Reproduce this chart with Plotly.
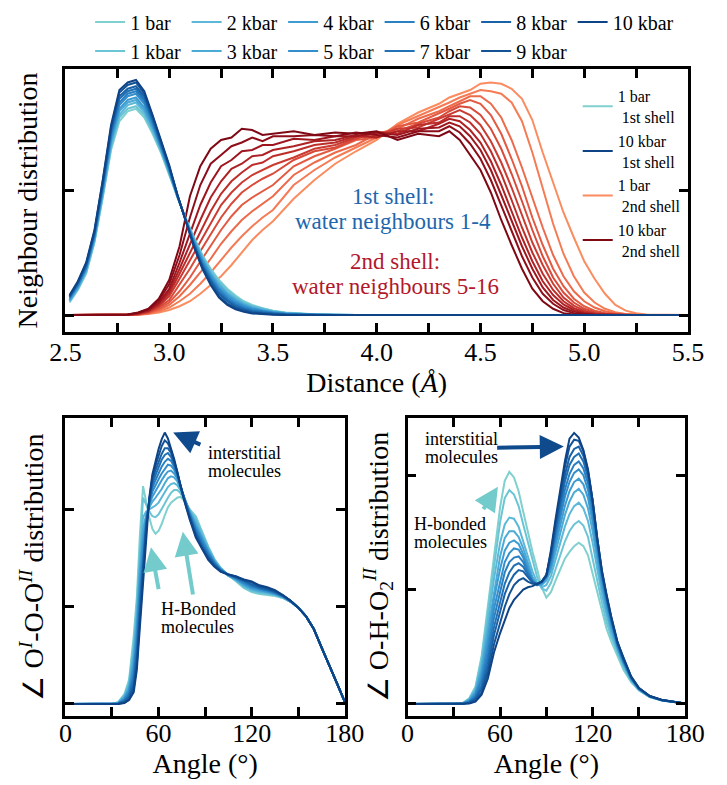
import plotly.graph_objects as go

PRESSURES = ["1 bar", "1 kbar", "2 kbar", "3 kbar", "4 kbar", "5 kbar",
             "6 kbar", "7 kbar", "8 kbar", "9 kbar", "10 kbar"]

# ---- top panel: 1st shell (neighbours 1-4) ----
SHELL1_X = [2.52, 2.56, 2.60, 2.64, 2.68, 2.72, 2.76, 2.80, 2.84, 2.88, 2.92, 2.96, 3.00, 3.04,
            3.08, 3.12, 3.16, 3.20, 3.24, 3.28, 3.32, 3.36, 3.40, 3.45, 3.50, 3.56, 3.62, 3.70,
            3.80, 3.90, 5.50]
SHELL1_Y = [
    [0.10, 0.20, 0.33, 0.58, 0.94, 1.32, 1.55, 1.63, 1.65, 1.58, 1.45, 1.30, 1.12, 0.94, 0.77, 0.62, 0.48, 0.37, 0.28, 0.21, 0.155, 0.11, 0.08, 0.055, 0.035, 0.02, 0.012, 0.006, 0.002, 0, 0],
    [0.11, 0.21, 0.34, 0.59, 0.95, 1.34, 1.58, 1.65, 1.67, 1.60, 1.47, 1.31, 1.13, 0.94, 0.77, 0.61, 0.47, 0.36, 0.27, 0.20, 0.144, 0.10, 0.073, 0.05, 0.032, 0.018, 0.011, 0.005, 0.002, 0, 0],
    [0.11, 0.21, 0.35, 0.60, 0.97, 1.36, 1.60, 1.68, 1.70, 1.62, 1.48, 1.32, 1.14, 0.94, 0.77, 0.60, 0.46, 0.34, 0.25, 0.18, 0.133, 0.093, 0.066, 0.045, 0.029, 0.016, 0.01, 0.005, 0.002, 0, 0],
    [0.12, 0.22, 0.36, 0.61, 0.98, 1.38, 1.63, 1.70, 1.72, 1.64, 1.50, 1.33, 1.14, 0.95, 0.76, 0.60, 0.45, 0.33, 0.24, 0.17, 0.122, 0.085, 0.06, 0.04, 0.025, 0.014, 0.008, 0.004, 0.001, 0, 0],
    [0.12, 0.23, 0.37, 0.62, 1.00, 1.40, 1.65, 1.72, 1.74, 1.66, 1.51, 1.34, 1.15, 0.95, 0.76, 0.59, 0.44, 0.32, 0.22, 0.16, 0.111, 0.076, 0.053, 0.035, 0.022, 0.012, 0.007, 0.004, 0.001, 0, 0],
    [0.13, 0.235, 0.375, 0.63, 1.01, 1.42, 1.68, 1.75, 1.77, 1.69, 1.53, 1.35, 1.16, 0.95, 0.76, 0.58, 0.425, 0.305, 0.21, 0.145, 0.10, 0.068, 0.046, 0.03, 0.019, 0.01, 0.006, 0.003, 0.001, 0, 0],
    [0.14, 0.24, 0.38, 0.64, 1.02, 1.44, 1.70, 1.77, 1.79, 1.71, 1.54, 1.36, 1.17, 0.95, 0.76, 0.57, 0.41, 0.29, 0.20, 0.13, 0.089, 0.059, 0.039, 0.026, 0.016, 0.009, 0.005, 0.002, 0.001, 0, 0],
    [0.14, 0.25, 0.39, 0.65, 1.04, 1.46, 1.73, 1.79, 1.81, 1.73, 1.56, 1.37, 1.18, 0.95, 0.76, 0.56, 0.40, 0.28, 0.18, 0.12, 0.078, 0.05, 0.032, 0.021, 0.013, 0.007, 0.004, 0.002, 0, 0, 0],
    [0.15, 0.26, 0.40, 0.66, 1.05, 1.48, 1.75, 1.81, 1.83, 1.75, 1.57, 1.38, 1.18, 0.96, 0.75, 0.56, 0.39, 0.27, 0.17, 0.11, 0.067, 0.042, 0.026, 0.016, 0.009, 0.005, 0.002, 0.001, 0, 0, 0],
    [0.15, 0.26, 0.41, 0.67, 1.07, 1.50, 1.78, 1.84, 1.86, 1.77, 1.59, 1.39, 1.19, 0.96, 0.75, 0.55, 0.38, 0.25, 0.15, 0.09, 0.056, 0.034, 0.019, 0.011, 0.006, 0.003, 0.001, 0.001, 0, 0, 0],
    [0.16, 0.27, 0.42, 0.68, 1.08, 1.52, 1.80, 1.86, 1.88, 1.79, 1.60, 1.40, 1.20, 0.96, 0.75, 0.54, 0.37, 0.24, 0.14, 0.08, 0.045, 0.025, 0.012, 0.006, 0.003, 0.001, 0, 0, 0, 0, 0],
]

# ---- top panel: 2nd shell (neighbours 5-16) ----
SHELL2_X = [2.52, 2.80, 2.85, 2.90, 2.95, 3.00, 3.05, 3.10, 3.15, 3.20, 3.25, 3.30, 3.35, 3.40,
            3.45, 3.50, 3.60, 3.70, 3.80, 3.90, 4.00, 4.10, 4.20, 4.30, 4.35, 4.40, 4.45, 4.50,
            4.55, 4.60, 4.65, 4.70, 4.75, 4.80, 4.85, 4.90, 4.95, 5.00, 5.05, 5.10, 5.15, 5.20,
            5.25, 5.30, 5.50]
SHELL2_Y = [
    [0, 0, 0.002, 0.008, 0.02, 0.04, 0.07, 0.11, 0.17, 0.24, 0.31, 0.40, 0.50, 0.60, 0.68, 0.75, 0.93, 1.08, 1.21, 1.31, 1.40, 1.53, 1.62, 1.69, 1.74, 1.77, 1.80, 1.85, 1.86, 1.85, 1.81, 1.73, 1.56, 1.30, 1.06, 0.82, 0.62, 0.43, 0.29, 0.17, 0.08, 0.035, 0.014, 0.004, 0],
    [0, 0, 0.003, 0.011, 0.03, 0.06, 0.11, 0.17, 0.25, 0.34, 0.44, 0.54, 0.63, 0.71, 0.78, 0.84, 1.04, 1.16, 1.26, 1.34, 1.42, 1.52, 1.59, 1.66, 1.70, 1.74, 1.77, 1.80, 1.79, 1.77, 1.70, 1.55, 1.30, 1.02, 0.73, 0.49, 0.31, 0.18, 0.10, 0.05, 0.022, 0.009, 0.003, 0, 0],
    [0, 0.001, 0.004, 0.014, 0.04, 0.08, 0.15, 0.24, 0.34, 0.45, 0.57, 0.67, 0.76, 0.83, 0.89, 0.95, 1.12, 1.22, 1.30, 1.36, 1.45, 1.49, 1.57, 1.63, 1.67, 1.71, 1.75, 1.75, 1.69, 1.58, 1.40, 1.18, 0.94, 0.70, 0.48, 0.31, 0.19, 0.11, 0.06, 0.03, 0.012, 0.005, 0.002, 0, 0],
    [0, 0.001, 0.005, 0.018, 0.05, 0.10, 0.19, 0.30, 0.43, 0.55, 0.68, 0.79, 0.88, 0.94, 0.99, 1.04, 1.19, 1.27, 1.33, 1.40, 1.42, 1.51, 1.54, 1.61, 1.65, 1.69, 1.72, 1.69, 1.60, 1.45, 1.25, 1.03, 0.78, 0.56, 0.37, 0.23, 0.13, 0.07, 0.035, 0.016, 0.006, 0.002, 0, 0, 0],
    [0, 0.001, 0.007, 0.022, 0.06, 0.12, 0.24, 0.37, 0.51, 0.65, 0.78, 0.89, 0.98, 1.04, 1.09, 1.13, 1.24, 1.31, 1.34, 1.41, 1.46, 1.47, 1.53, 1.58, 1.63, 1.67, 1.66, 1.60, 1.49, 1.33, 1.13, 0.91, 0.68, 0.47, 0.30, 0.18, 0.10, 0.05, 0.024, 0.01, 0.004, 0.001, 0, 0, 0],
    [0, 0.001, 0.008, 0.026, 0.07, 0.15, 0.29, 0.44, 0.58, 0.74, 0.88, 0.98, 1.06, 1.12, 1.16, 1.20, 1.26, 1.33, 1.36, 1.42, 1.43, 1.49, 1.50, 1.57, 1.61, 1.64, 1.60, 1.52, 1.39, 1.22, 1.02, 0.80, 0.58, 0.40, 0.25, 0.14, 0.075, 0.035, 0.015, 0.006, 0.002, 0, 0, 0, 0],
    [0, 0.001, 0.01, 0.03, 0.08, 0.17, 0.33, 0.50, 0.66, 0.83, 0.97, 1.07, 1.14, 1.20, 1.22, 1.27, 1.31, 1.36, 1.38, 1.43, 1.46, 1.45, 1.52, 1.54, 1.59, 1.59, 1.54, 1.45, 1.31, 1.13, 0.92, 0.70, 0.50, 0.33, 0.20, 0.11, 0.055, 0.025, 0.01, 0.004, 0.001, 0, 0, 0, 0],
    [0, 0.002, 0.012, 0.035, 0.09, 0.19, 0.37, 0.57, 0.76, 0.94, 1.07, 1.17, 1.21, 1.27, 1.28, 1.32, 1.35, 1.39, 1.40, 1.44, 1.42, 1.47, 1.47, 1.53, 1.57, 1.55, 1.48, 1.38, 1.23, 1.04, 0.83, 0.62, 0.43, 0.27, 0.16, 0.085, 0.04, 0.017, 0.007, 0.002, 0, 0, 0, 0, 0],
    [0, 0.003, 0.014, 0.04, 0.10, 0.21, 0.42, 0.65, 0.88, 1.06, 1.19, 1.24, 1.31, 1.32, 1.36, 1.36, 1.41, 1.40, 1.43, 1.43, 1.46, 1.44, 1.49, 1.50, 1.54, 1.51, 1.43, 1.32, 1.16, 0.96, 0.75, 0.55, 0.37, 0.22, 0.12, 0.06, 0.027, 0.011, 0.004, 0.001, 0, 0, 0, 0, 0],
    [0, 0.004, 0.017, 0.045, 0.115, 0.245, 0.48, 0.78, 1.04, 1.21, 1.28, 1.35, 1.38, 1.42, 1.39, 1.43, 1.43, 1.44, 1.43, 1.46, 1.44, 1.42, 1.47, 1.47, 1.51, 1.46, 1.37, 1.25, 1.08, 0.88, 0.67, 0.47, 0.30, 0.17, 0.09, 0.04, 0.015, 0.005, 0.001, 0, 0, 0, 0, 0, 0],
    [0, 0.005, 0.02, 0.05, 0.13, 0.28, 0.55, 0.95, 1.19, 1.33, 1.40, 1.42, 1.49, 1.48, 1.44, 1.45, 1.47, 1.44, 1.46, 1.45, 1.47, 1.40, 1.45, 1.43, 1.47, 1.40, 1.28, 1.16, 0.98, 0.76, 0.56, 0.37, 0.21, 0.11, 0.05, 0.015, 0.004, 0, 0, 0, 0, 0, 0, 0, 0],
]

# ---- bottom left: O^I-O-O^II angle ----
OOO_X = [0, 30, 34, 38, 41, 44, 46, 48, 50, 52, 54, 56, 58, 60, 62, 64, 66, 68, 70, 72, 74, 76,
         78, 80, 84, 88, 92, 96, 100, 105, 110, 115, 120, 125, 130, 135, 140, 145, 150, 155,
         160, 165, 170, 175, 180]
OOO_Y = [
    [0, 0, 0.02, 0.10, 0.25, 0.70, 1.10, 1.75, 2.24, 2.08, 1.92, 1.80, 1.75, 1.78, 1.85, 1.94, 2.02, 2.07, 2.10, 2.12, 2.13, 2.10, 2.05, 2.00, 1.93, 1.78, 1.62, 1.49, 1.40, 1.32, 1.26, 1.19, 1.15, 1.13, 1.12, 1.11, 1.09, 1.05, 0.99, 0.90, 0.77, 0.58, 0.40, 0.21, 0.02],
    [0, 0, 0.015, 0.09, 0.22, 0.62, 1.02, 1.62, 2.12, 2.05, 1.98, 1.93, 1.92, 1.95, 2.00, 2.06, 2.12, 2.17, 2.20, 2.20, 2.17, 2.12, 2.06, 2.00, 1.91, 1.76, 1.61, 1.48, 1.40, 1.32, 1.27, 1.20, 1.16, 1.14, 1.13, 1.12, 1.09, 1.05, 0.99, 0.90, 0.77, 0.58, 0.40, 0.21, 0.02],
    [0, 0, 0.01, 0.08, 0.20, 0.55, 0.94, 1.50, 1.92, 1.98, 2.00, 2.02, 2.04, 2.07, 2.12, 2.18, 2.23, 2.26, 2.27, 2.25, 2.20, 2.13, 2.06, 1.99, 1.88, 1.74, 1.60, 1.48, 1.39, 1.32, 1.27, 1.21, 1.17, 1.15, 1.14, 1.12, 1.10, 1.05, 0.99, 0.90, 0.77, 0.58, 0.40, 0.21, 0.02],
    [0, 0, 0.008, 0.07, 0.17, 0.48, 0.86, 1.40, 1.80, 1.95, 2.02, 2.08, 2.12, 2.16, 2.21, 2.27, 2.32, 2.34, 2.33, 2.29, 2.22, 2.14, 2.06, 1.98, 1.85, 1.72, 1.58, 1.47, 1.39, 1.32, 1.28, 1.22, 1.18, 1.16, 1.15, 1.13, 1.10, 1.05, 0.99, 0.90, 0.77, 0.58, 0.40, 0.21, 0.02],
    [0, 0, 0.006, 0.06, 0.15, 0.42, 0.78, 1.30, 1.70, 1.92, 2.04, 2.13, 2.19, 2.24, 2.30, 2.35, 2.39, 2.40, 2.37, 2.32, 2.23, 2.14, 2.05, 1.97, 1.83, 1.70, 1.57, 1.46, 1.38, 1.32, 1.28, 1.23, 1.19, 1.17, 1.15, 1.13, 1.10, 1.05, 0.99, 0.90, 0.77, 0.58, 0.40, 0.21, 0.02],
    [0, 0, 0.005, 0.05, 0.13, 0.36, 0.70, 1.20, 1.61, 1.89, 2.06, 2.18, 2.25, 2.31, 2.37, 2.42, 2.46, 2.45, 2.41, 2.34, 2.24, 2.14, 2.05, 1.96, 1.81, 1.68, 1.56, 1.45, 1.38, 1.32, 1.29, 1.24, 1.20, 1.18, 1.16, 1.14, 1.11, 1.06, 0.99, 0.90, 0.77, 0.58, 0.40, 0.21, 0.02],
    [0, 0, 0.004, 0.04, 0.11, 0.30, 0.62, 1.12, 1.53, 1.86, 2.07, 2.22, 2.30, 2.37, 2.44, 2.49, 2.52, 2.50, 2.44, 2.36, 2.24, 2.13, 2.04, 1.95, 1.79, 1.66, 1.54, 1.45, 1.38, 1.33, 1.29, 1.25, 1.21, 1.19, 1.17, 1.14, 1.11, 1.06, 0.99, 0.90, 0.77, 0.58, 0.40, 0.21, 0.02],
    [0, 0, 0.003, 0.03, 0.09, 0.25, 0.55, 1.04, 1.45, 1.84, 2.08, 2.26, 2.35, 2.43, 2.51, 2.56, 2.58, 2.54, 2.47, 2.37, 2.25, 2.13, 2.03, 1.94, 1.77, 1.64, 1.53, 1.44, 1.37, 1.33, 1.30, 1.26, 1.22, 1.19, 1.17, 1.15, 1.11, 1.06, 0.99, 0.90, 0.77, 0.58, 0.40, 0.21, 0.02],
    [0, 0, 0.002, 0.02, 0.07, 0.20, 0.48, 0.96, 1.38, 1.82, 2.09, 2.30, 2.40, 2.49, 2.57, 2.63, 2.63, 2.58, 2.49, 2.38, 2.25, 2.13, 2.03, 1.93, 1.75, 1.62, 1.51, 1.43, 1.37, 1.33, 1.30, 1.27, 1.23, 1.20, 1.18, 1.15, 1.11, 1.06, 0.99, 0.90, 0.77, 0.58, 0.40, 0.21, 0.02],
    [0, 0, 0.001, 0.015, 0.05, 0.16, 0.41, 0.88, 1.31, 1.79, 2.10, 2.33, 2.45, 2.56, 2.65, 2.71, 2.68, 2.61, 2.51, 2.39, 2.25, 2.12, 2.02, 1.92, 1.73, 1.60, 1.50, 1.42, 1.36, 1.33, 1.31, 1.27, 1.25, 1.21, 1.19, 1.16, 1.12, 1.06, 0.99, 0.90, 0.77, 0.58, 0.40, 0.21, 0.02],
    [0, 0, 0, 0.01, 0.04, 0.12, 0.35, 0.80, 1.25, 1.75, 2.12, 2.36, 2.50, 2.62, 2.72, 2.79, 2.73, 2.63, 2.52, 2.39, 2.25, 2.12, 2.01, 1.90, 1.71, 1.59, 1.48, 1.41, 1.36, 1.33, 1.31, 1.28, 1.26, 1.22, 1.20, 1.17, 1.12, 1.06, 0.99, 0.90, 0.77, 0.58, 0.40, 0.21, 0.02],
]

# ---- bottom right: O-H-O2^II angle ----
OHO_X = [0, 30, 36, 40, 44, 48, 52, 56, 60, 63, 66, 69, 72, 75, 78, 81, 84, 87, 90, 93, 96, 99,
         102, 105, 108, 111, 114, 117, 120, 123, 126, 129, 132, 136, 140, 145, 150, 157, 165, 180]
OHO_Y = [
    [0, 0, 0.01, 0.05, 0.15, 0.42, 0.85, 1.30, 1.72, 1.95, 2.03, 1.98, 1.86, 1.68, 1.50, 1.33, 1.18, 1.02, 0.93, 0.98, 1.08, 1.17, 1.27, 1.33, 1.38, 1.41, 1.38, 1.30, 1.14, 0.96, 0.80, 0.66, 0.55, 0.42, 0.30, 0.19, 0.12, 0.06, 0.03, 0.005],
    [0, 0, 0.008, 0.045, 0.14, 0.39, 0.79, 1.21, 1.59, 1.80, 1.87, 1.83, 1.73, 1.57, 1.41, 1.25, 1.11, 1.01, 0.99, 1.06, 1.18, 1.30, 1.42, 1.51, 1.57, 1.60, 1.56, 1.46, 1.28, 1.08, 0.89, 0.72, 0.59, 0.45, 0.32, 0.20, 0.12, 0.06, 0.03, 0.005],
    [0, 0, 0.007, 0.04, 0.12, 0.35, 0.71, 1.09, 1.41, 1.57, 1.63, 1.62, 1.55, 1.43, 1.29, 1.16, 1.06, 1.02, 1.04, 1.12, 1.26, 1.41, 1.55, 1.66, 1.73, 1.76, 1.71, 1.60, 1.41, 1.18, 0.96, 0.78, 0.63, 0.47, 0.34, 0.21, 0.125, 0.062, 0.031, 0.005],
    [0, 0, 0.006, 0.035, 0.11, 0.31, 0.64, 1.00, 1.29, 1.45, 1.51, 1.51, 1.46, 1.36, 1.23, 1.11, 1.04, 1.04, 1.08, 1.17, 1.33, 1.50, 1.65, 1.77, 1.85, 1.88, 1.83, 1.71, 1.51, 1.26, 1.02, 0.82, 0.66, 0.49, 0.35, 0.21, 0.13, 0.064, 0.032, 0.005],
    [0, 0, 0.005, 0.03, 0.10, 0.27, 0.57, 0.91, 1.18, 1.34, 1.41, 1.43, 1.40, 1.31, 1.19, 1.09, 1.04, 1.05, 1.10, 1.20, 1.39, 1.57, 1.73, 1.86, 1.94, 1.97, 1.92, 1.80, 1.59, 1.32, 1.06, 0.86, 0.69, 0.50, 0.36, 0.22, 0.13, 0.065, 0.032, 0.005],
    [0, 0, 0.004, 0.025, 0.08, 0.23, 0.50, 0.83, 1.08, 1.24, 1.32, 1.36, 1.35, 1.28, 1.17, 1.08, 1.04, 1.06, 1.11, 1.23, 1.44, 1.63, 1.81, 1.94, 2.02, 2.05, 2.00, 1.87, 1.65, 1.37, 1.10, 0.89, 0.71, 0.51, 0.37, 0.22, 0.13, 0.066, 0.033, 0.005],
    [0, 0, 0.003, 0.02, 0.07, 0.20, 0.44, 0.75, 0.99, 1.15, 1.24, 1.28, 1.29, 1.24, 1.15, 1.07, 1.04, 1.06, 1.12, 1.26, 1.48, 1.69, 1.87, 2.01, 2.09, 2.12, 2.06, 1.93, 1.70, 1.40, 1.12, 0.91, 0.73, 0.52, 0.38, 0.23, 0.135, 0.067, 0.033, 0.005],
    [0, 0, 0.002, 0.016, 0.055, 0.16, 0.38, 0.67, 0.90, 1.05, 1.15, 1.21, 1.23, 1.20, 1.13, 1.07, 1.04, 1.07, 1.12, 1.28, 1.52, 1.74, 1.94, 2.09, 2.16, 2.19, 2.12, 1.98, 1.74, 1.42, 1.14, 0.93, 0.74, 0.53, 0.38, 0.23, 0.135, 0.068, 0.034, 0.005],
    [0, 0, 0.001, 0.012, 0.045, 0.13, 0.32, 0.60, 0.81, 0.96, 1.06, 1.13, 1.17, 1.16, 1.11, 1.06, 1.05, 1.07, 1.13, 1.30, 1.55, 1.79, 2.00, 2.16, 2.23, 2.25, 2.17, 2.02, 1.77, 1.44, 1.15, 0.94, 0.75, 0.54, 0.39, 0.23, 0.14, 0.069, 0.034, 0.005],
    [0, 0, 0.001, 0.008, 0.03, 0.10, 0.27, 0.52, 0.71, 0.85, 0.96, 1.04, 1.08, 1.10, 1.07, 1.05, 1.05, 1.07, 1.13, 1.33, 1.59, 1.84, 2.07, 2.25, 2.31, 2.30, 2.21, 2.04, 1.78, 1.45, 1.16, 0.95, 0.76, 0.54, 0.40, 0.24, 0.14, 0.07, 0.035, 0.005],
    [0, 0, 0, 0.005, 0.02, 0.08, 0.22, 0.45, 0.62, 0.74, 0.84, 0.91, 0.96, 1.00, 1.02, 1.03, 1.05, 1.07, 1.12, 1.35, 1.62, 1.88, 2.12, 2.32, 2.37, 2.33, 2.22, 2.05, 1.78, 1.45, 1.17, 0.96, 0.77, 0.55, 0.40, 0.24, 0.14, 0.07, 0.035, 0.005],
]

# ---- styles ----
BLUES = ["#7fd0cf", "#6cc5d5", "#5cb8d9", "#4caad7", "#3f9cd2", "#338ecb",
         "#2980c2", "#2071b6", "#1962a7", "#145296", "#0e4385"]
REDS = ["#fb8c5f", "#f57b55", "#ed6a4b", "#e35a42", "#d84a39", "#cb3b32",
        "#bd2e2b", "#ae2225", "#9e171f", "#8e0e1a", "#7f0815"]
FONT = "Liberation Serif"
W, H = 727, 785


def px_x(p):
    return p / W


def px_y(p):
    return 1 - p / H


fig = go.Figure()

# top panel: second shell first, then first shell on top
for i in range(11):
    fig.add_trace(go.Scatter(
        x=SHELL2_X, y=SHELL2_Y[i], mode="lines", xaxis="x", yaxis="y",
        line=dict(color=REDS[i], width=2),
        name=PRESSURES[i] + "<br>\u00a02nd shell", legend="legend3",
        showlegend=i in (0, 10), legendrank=3 if i == 0 else 4, hoverinfo="skip"))
for i in range(11):
    fig.add_trace(go.Scatter(
        x=SHELL1_X, y=SHELL1_Y[i], mode="lines", xaxis="x", yaxis="y",
        line=dict(color=BLUES[i], width=2),
        name=PRESSURES[i] + "<br>\u00a01st shell", legend="legend3",
        showlegend=i in (0, 10), legendrank=1 if i == 0 else 2, hoverinfo="skip"))

# bottom left (carries the pressure legend)
for i in range(11):
    fig.add_trace(go.Scatter(
        x=OOO_X, y=OOO_Y[i], mode="lines", xaxis="x2", yaxis="y2",
        line=dict(color=BLUES[i], width=2), name=PRESSURES[i],
        legend="legend" if i % 2 == 0 else "legend2", showlegend=True,
        legendwidth=70 if i == 10 else None, hoverinfo="skip"))
# bottom right
for i in range(11):
    fig.add_trace(go.Scatter(
        x=OHO_X, y=OHO_Y[i], mode="lines", xaxis="x3", yaxis="y3",
        line=dict(color=BLUES[i], width=2), name=PRESSURES[i],
        showlegend=False, hoverinfo="skip"))

axis_common = dict(showline=True, linewidth=2.5, linecolor="black", mirror="ticks",
                   ticks="inside", ticklen=9, tickwidth=2.5, tickcolor="black",
                   showgrid=False, zeroline=False,
                   tickfont=dict(family=FONT, size=26, color="black"))
minor_common = dict(ticks="inside", ticklen=9, tickwidth=2.5, tickcolor="black")
title_font = dict(family=FONT, size=28, color="black")

fig.update_layout(
    width=W, height=H, margin=dict(l=0, r=0, t=0, b=0),
    paper_bgcolor="white", plot_bgcolor="white",
    font=dict(family=FONT, color="black"),
    xaxis=dict(domain=[px_x(52), px_x(707)], anchor="y", range=[2.5, 5.5],
               tick0=2.5, dtick=0.5, tickformat=".1f", ticklabelstandoff=-5,
               minor=dict(dtick=0.25, **minor_common),
               title=dict(text="Distance (<i>Å</i>)", font=title_font, standoff=6),
               **axis_common),
    yaxis=dict(domain=[px_y(332), px_y(69)], anchor="x", range=[-0.136, 1.968],
               tickvals=[0, 1], showticklabels=False,
               title=dict(text="Neighbour distribution", font=title_font, standoff=17),
               **axis_common),
    xaxis2=dict(domain=[px_x(52), px_x(346)], anchor="y2", range=[0, 180],
                tick0=0, dtick=60, ticklabelstandoff=-8,
                minor=dict(dtick=30, **minor_common),
                title=dict(text="Angle (°)", font=title_font, standoff=6),
                **axis_common),
    yaxis2=dict(domain=[px_y(716), px_y(418)], anchor="x2", range=[-0.124, 2.94],
                tickvals=[0, 1, 2], showticklabels=False,
                title=dict(text="∠ O<sup><i>I</i></sup>-O-O<sup><i>II</i></sup> distribution",
                           font=title_font, standoff=11),
                **axis_common),
    xaxis3=dict(domain=[px_x(412), px_x(704)], anchor="y3", range=[0, 180],
                tick0=0, dtick=60, ticklabelstandoff=-8,
                minor=dict(dtick=30, **minor_common),
                title=dict(text="Angle (°)", font=title_font, standoff=6),
                **axis_common),
    yaxis3=dict(domain=[px_y(716), px_y(418)], anchor="x3", range=[-0.105, 2.5],
                tickvals=[0, 1, 2], showticklabels=False,
                title=dict(text="∠ O-H-O<sub>2</sub><sup><i>II</i></sup> distribution",
                           font=title_font, standoff=9),
                **axis_common),
    legend=dict(orientation="h", x=px_x(78), xanchor="left", y=px_y(22), yanchor="middle",
                entrywidth=51.5, entrywidthmode="pixels", bgcolor="rgba(0,0,0,0)",
                font=dict(family=FONT, size=20), itemclick=False, itemdoubleclick=False),
    legend2=dict(orientation="h", x=px_x(78), xanchor="left", y=px_y(51), yanchor="middle",
                 entrywidth=51.5, entrywidthmode="pixels", bgcolor="rgba(0,0,0,0)",
                 font=dict(family=FONT, size=20), itemclick=False, itemdoubleclick=False),
    legend3=dict(orientation="v", x=px_x(591), xanchor="left", y=px_y(79), yanchor="top",
                 bgcolor="rgba(0,0,0,0)", font=dict(family=FONT, size=16),
                 itemclick=False, itemdoubleclick=False),
)

ann = []
# top panel texts
ann += [
    dict(x=4.08, y=0.946, xref="x", yref="y", text="1st shell:", showarrow=False,
         font=dict(family=FONT, size=23, color="#2166ac")),
    dict(x=4.08, y=0.746, xref="x", yref="y", text="water neighbours 1-4", showarrow=False,
         font=dict(family=FONT, size=23, color="#2166ac")),
    dict(x=4.09, y=0.426, xref="x", yref="y", text="2nd shell:", showarrow=False,
         font=dict(family=FONT, size=23, color="#b2182b")),
    dict(x=4.09, y=0.226, xref="x", yref="y", text="water neighbours 5-16", showarrow=False,
         font=dict(family=FONT, size=23, color="#b2182b")),
]
DARK_ARROW = "#0e4a8c"
TEAL_ARROW = "#74cbcb"
small = dict(family=FONT, size=18, color="black")
arrow_style = dict(text="", showarrow=True, arrowhead=2, arrowsize=1.2, arrowwidth=4, standoff=0)
# bottom left
ann += [
    dict(x=90.3, y=2.58, xref="x2", yref="y2", text="interstitial", showarrow=False,
         xanchor="left", font=small),
    dict(x=90.3, y=2.39, xref="x2", yref="y2", text="molecules", showarrow=False,
         xanchor="left", font=small),
    dict(x=60.2, y=0.976, xref="x2", yref="y2", text="H-Bonded", showarrow=False,
         xanchor="left", font=small),
    dict(x=60.2, y=0.787, xref="x2", yref="y2", text="molecules", showarrow=False,
         xanchor="left", font=small),
    dict(x=69.4, y=2.79, ax=87.9, ay=2.66, xref="x2", yref="y2", axref="x2", ayref="y2",
         arrowcolor=DARK_ARROW, **arrow_style),
    dict(x=55.1, y=1.61, ax=60.2, ay=1.165, xref="x2", yref="y2", axref="x2", ayref="y2",
         arrowcolor=TEAL_ARROW, **arrow_style),
    dict(x=75.6, y=1.77, ax=82.3, ay=1.11, xref="x2", yref="y2", axref="x2", ayref="y2",
         arrowcolor=TEAL_ARROW, **arrow_style),
]
# bottom right
ann += [
    dict(x=9.9, y=2.32, xref="x3", yref="y3", text="interstitial", showarrow=False,
         xanchor="left", font=small),
    dict(x=9.9, y=2.16, xref="x3", yref="y3", text="molecules", showarrow=False,
         xanchor="left", font=small),
    dict(x=2.7, y=1.576, xref="x3", yref="y3", text="H-bonded", showarrow=False,
         xanchor="left", font=small),
    dict(x=2.7, y=1.415, xref="x3", yref="y3", text="molecules", showarrow=False,
         xanchor="left", font=small),
    dict(x=101.3, y=2.25, ax=57.1, ay=2.24, xref="x3", yref="y3", axref="x3", ayref="y3",
         arrowcolor=DARK_ARROW, **arrow_style),
    dict(x=58.6, y=1.90, ax=48.5, ay=1.69, xref="x3", yref="y3", axref="x3", ayref="y3",
         arrowcolor=TEAL_ARROW, **arrow_style),
]
fig.update_layout(annotations=ann)

fig.write_html("out.html")
